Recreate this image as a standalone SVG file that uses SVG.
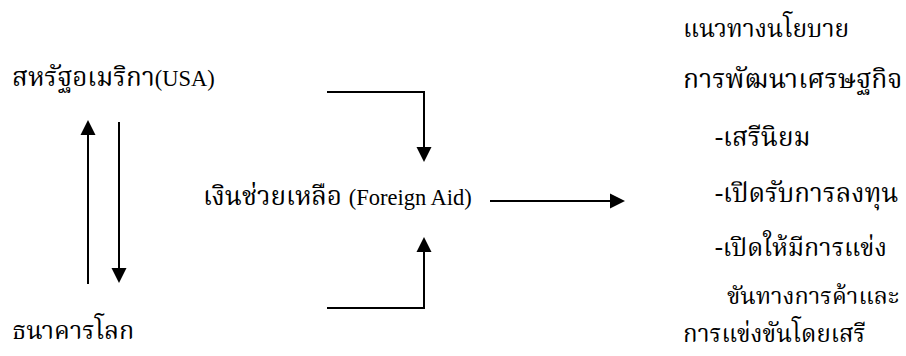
<svg xmlns="http://www.w3.org/2000/svg" width="906" height="356" viewBox="0 0 906 356">
  <style>
    .t { font-family: "Noto Serif Thai", "Noto Sans Thai", "Liberation Serif", serif; font-size: 26px; fill: #000; }
    .l { font-family: "Liberation Serif", serif; font-size: 22.5px; }
    .c { fill: none; stroke: #000; stroke-width: 2; }
  </style>
  <defs>
    <marker id="ah" markerUnits="userSpaceOnUse" markerWidth="16" markerHeight="16" refX="0" refY="8" orient="auto" viewBox="0 0 16 16">
      <path d="M0,0.5 L15,8 L0,15.5 Z" fill="#000"/>
    </marker>
  </defs>
  <rect width="906" height="356" fill="#fff"/>
  <g id="n-usa">
    <text class="t" x="12" y="86">สหรัฐอเมริกา<tspan class="l">(USA)</tspan></text>
  </g>
  <g id="n-worldbank"><text class="t" x="12" y="339" style="font-size:25px">ธนาคารโลก</text></g>
  <g id="n-aid">
    <text class="t" x="203" y="205">เงินช่วยเหลือ <tspan class="l">(Foreign Aid)</tspan></text>
  </g>
  <g id="n-policy">
    <text class="t" x="683" y="37" style="font-size:24.5px">แนวทางนโยบาย</text>
    <text class="t" x="683" y="88" style="font-size:26.5px">การพัฒนาเศรษฐกิจ</text>
    <text class="t" x="715" y="146">-เสรีนิยม</text>
    <text class="t" x="715" y="202">-เปิดรับการลงทุน</text>
    <text class="t" x="715" y="256" style="font-size:25px">-เปิดให้มีการแข่ง</text>
    <text class="t" x="727" y="304" style="font-size:23.5px">ขันทางการค้าและ</text>
    <text class="t" x="683" y="342" style="font-size:24px">การแข่งขันโดยเสรี</text>
  </g>
  <g id="connectors">
    <path class="c" d="M88,284 V135" marker-end="url(#ah)"/>
    <path class="c" d="M119,122 V268" marker-end="url(#ah)"/>
    <path class="c" d="M327,92 H424 V147" marker-end="url(#ah)"/>
    <path class="c" d="M327,308 H424 V252" marker-end="url(#ah)"/>
    <path class="c" d="M490,201 H610" marker-end="url(#ah)"/>
  </g>
</svg>
